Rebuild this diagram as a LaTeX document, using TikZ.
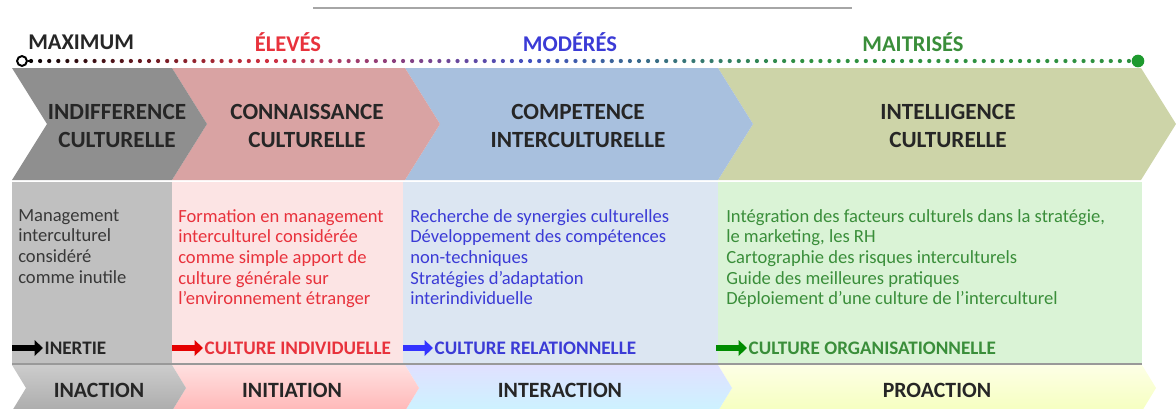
\documentclass[tikz,border=0pt]{standalone}
\usepackage{fontspec}
\setmainfont{Carlito}
\usetikzlibrary{arrows.meta,calc}

% band colours
\definecolor{chevgray}{HTML}{8F8F8F}
\definecolor{chevpink}{HTML}{D9A3A3}
\definecolor{chevblue}{HTML}{A8C0DE}
\definecolor{chevgreen}{HTML}{CDD4A8}
\definecolor{colgray}{HTML}{C0C0C0}
\definecolor{colpink}{HTML}{FCE4E4}
\definecolor{colblue}{HTML}{DCE6F2}
\definecolor{colgreen}{HTML}{DAF3D6}
% text colours
\definecolor{txtgray}{HTML}{383838}
\definecolor{txtred}{HTML}{E8323C}
\definecolor{txtblue}{HTML}{3B3BD6}
\definecolor{txtgreen}{HTML}{3A8E3A}
\definecolor{dotred}{HTML}{D03040}
\definecolor{dotblue}{HTML}{4050C0}
\definecolor{dotgreen}{HTML}{2E9040}
\definecolor{endgreen}{HTML}{1E9A2E}

% chevron: style, left x, right x, top y, bottom y, depth of point
\newcommand{\chevron}[6]{%
  \path[#1] (#2,#4) -- (#3,#4) -- ({#3+#6},{(#4+#5)/2}) -- (#3,#5)
    -- (#2,#5) -- ({#2+#6},{(#4+#5)/2}) -- cycle;}

\tikzset{
  level/.style={font=\bfseries\fontsize{16}{18}\selectfont, inner sep=0pt},
  stagetitle/.style={font=\bfseries\fontsize{16.5}{19.5}\selectfont, align=center, text=black!85},
  itemlist/.style={anchor=north west, align=left, inner sep=0pt,
    font=\fontsize{13.2}{14.7}\selectfont},
  culture/.style={anchor=west, inner sep=1pt, font=\bfseries\fontsize{13.6}{15}\selectfont},
  fatarrow/.style={line width=4.5pt, -{Triangle[length=6pt,width=11pt]}},
  action/.style={font=\bfseries\fontsize{15.5}{18}\selectfont, text=black!85},
}

\begin{document}
\begin{tikzpicture}[x=0.025cm, y=-0.025cm]
\useasboundingbox (0,0) rectangle (1176,408);
\begin{scope}
\clip (0,0) rectangle (1176,408);

% rule at the top
\draw[gray!70, line width=1.2pt] (313,8) -- (852,8);

% levels
\node[level, anchor=west, text=black!85] (maximum) at (28,42) {MAXIMUM};
\node[level, text=txtred] (eleves) at (288,42) {ÉLEVÉS};
\node[level, text=txtblue] (moderes) at (570,42) {MODÉRÉS};
\node[level, text=txtgreen] (maitrises) at (913,42) {MAITRISÉS};

% dotted scale
\node[circle, draw, line width=1.4pt, fill=white, inner sep=0pt, minimum size=7pt] (maxpt) at (22,61) {};
\node[circle, fill=endgreen, inner sep=0pt, minimum size=9pt] (maitpt) at (1138,61) {};
\draw[line width=1.4pt] (maxpt.east) -- ++(5,0);
\foreach \i in {1,...,122}{
  \ifnum\i<27
    \pgfmathtruncatemacro{\p}{100*\i/27}\colorlet{dot}{dotred!\p!black}
  \else\ifnum\i<56
    \pgfmathtruncatemacro{\p}{100*(\i-27)/29}\colorlet{dot}{dotblue!\p!dotred}
  \else\ifnum\i<86
    \pgfmathtruncatemacro{\p}{100*(\i-56)/30}\colorlet{dot}{dotgreen!\p!dotblue}
  \else
    \colorlet{dot}{dotgreen}
  \fi\fi\fi
  \fill[dot] ($(maxpt)!{\i/123}!(maitpt)$) circle[radius=1.5pt];
}

% upper chevrons
\chevron{fill=chevgreen}{718}{1141}{68}{180}{35}
\chevron{fill=chevblue}{405}{718}{68}{180}{35}
\chevron{fill=chevpink}{172}{405}{68}{180}{35}
\chevron{fill=chevgray}{12}{172}{68}{180}{35}

\node[stagetitle] (indiff) at (117,126) {INDIFFERENCE\\CULTURELLE};
\node[stagetitle] (connais) at (307,126) {CONNAISSANCE\\CULTURELLE};
\node[stagetitle] (compet) at (578,126) {COMPETENCE\\INTERCULTURELLE};
\node[stagetitle] (intell) at (948,126) {INTELLIGENCE\\CULTURELLE};

% columns
\fill[colgray] (12,182) rectangle (172,364);
\fill[colpink] (172,182) rectangle (403,364);
\fill[colblue] (403,182) rectangle (718,364);
\fill[colgreen] (718,182) rectangle (1142,364);

\node[itemlist, text=txtgray] (inutile) at (18,209)
  {Management\\interculturel\\considéré\\comme inutile};
\node[itemlist, text=txtred] (formation) at (178,209)
  {Formation en management\\interculturel considérée\\comme simple apport de\\culture générale sur\\l’environnement étranger};
\node[itemlist, text=txtblue] (synergies) at (410,209)
  {Recherche de synergies culturelles\\Développement des compétences\\non-techniques\\Stratégies d’adaptation\\interindividuelle};
\node[itemlist, text=txtgreen] (integration) at (726,209)
  {Intégration des facteurs culturels dans la stratégie,\\le marketing, les RH\\Cartographie des risques interculturels\\Guide des meilleures pratiques\\Déploiement d’une culture de l’interculturel};

% resulting culture
\coordinate (inertiefrom) at (12,348);
\coordinate (indivfrom) at (172,348);
\coordinate (relatfrom) at (403,348);
\coordinate (organfrom) at (716,348);
\node[culture, text=black!85] (inertie) at (43,348) {INERTIE};
\node[culture, text=txtred] (indiv) at (203,348) {CULTURE INDIVIDUELLE};
\node[culture, text=txtblue] (relat) at (433,348) {CULTURE RELATIONNELLE};
\node[culture, text=txtgreen] (organ) at (747,348) {CULTURE ORGANISATIONNELLE};
\draw[fatarrow, black] (inertiefrom) -- (inertie.west);
\draw[fatarrow, red!90!black] (indivfrom) -- (indiv.west);
\draw[fatarrow, blue!80] (relatfrom) -- (relat.west);
\draw[fatarrow, green!55!black] (organfrom) -- (organ.west);

\draw[gray!80, line width=0.8pt] (12,364) -- (1142,364);

% lower chevrons
\chevron{top color=green!8!yellow!10, bottom color=green!15!yellow!25}{718}{1142}{365}{411}{14}
\chevron{top color=blue!12, bottom color=blue!25!cyan!20}{405}{718}{365}{411}{14}
\chevron{top color=red!12, bottom color=red!28}{172}{405}{365}{411}{14}
\chevron{top color=gray!40, bottom color=gray!65}{12}{172}{365}{411}{14}

\node[action] (inaction) at (99,390) {INACTION};
\node[action] (initiation) at (292,390) {INITIATION};
\node[action] (interaction) at (560,390) {INTERACTION};
\node[action] (proaction) at (937,390) {PROACTION};
\end{scope}
\end{tikzpicture}
\end{document}
